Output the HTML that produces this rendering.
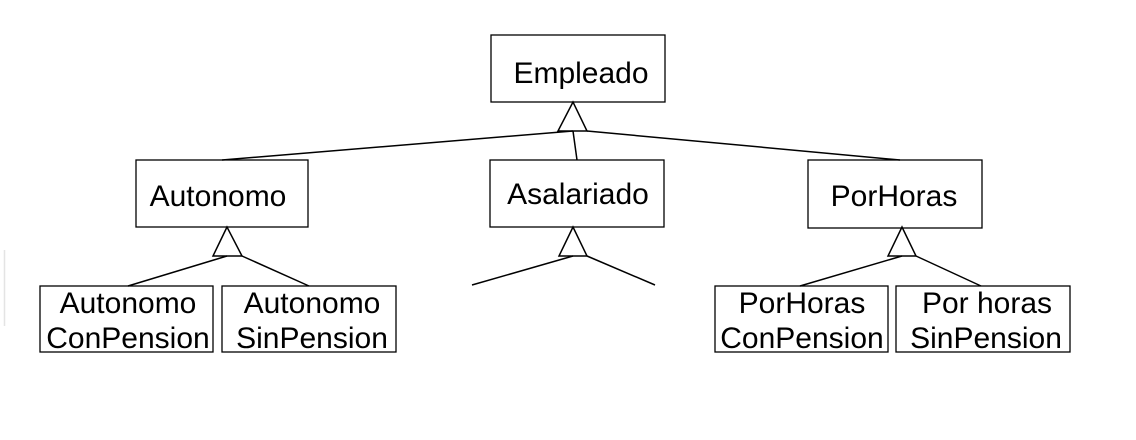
<!DOCTYPE html>
<html><head><meta charset="utf-8"><style>
html,body{margin:0;padding:0;background:#fff;}
svg{display:block;}
text{font-family:"Liberation Sans",Arial,sans-serif;font-size:30px;fill:#000;}
</style></head><body>
<svg width="1136" height="440" viewBox="0 0 1136 440" xmlns="http://www.w3.org/2000/svg">
<rect width="1136" height="440" fill="#fff"/>
<line x1="4.5" y1="250" x2="4.5" y2="326" stroke="#e4e4e4" stroke-width="1.5"/>
<g fill="#fff" stroke="#000" stroke-width="1.3">
<rect x="491" y="35" width="174" height="67"/>
<rect x="136" y="160" width="172" height="67"/>
<rect x="490" y="160" width="174" height="67"/>
<rect x="808" y="160" width="174" height="68"/>
<rect x="40" y="286" width="173" height="66"/>
<rect x="222" y="286" width="174" height="66"/>
<rect x="715" y="286" width="173" height="66"/>
<rect x="896" y="286" width="174" height="66"/>
</g>
<g fill="none" stroke="#000" stroke-width="1.5">
<polygon points="573,102 558,131 587,131" fill="#fff"/>
<line x1="573" y1="131" x2="222" y2="160"/>
<line x1="573" y1="131" x2="577" y2="160"/>
<line x1="587" y1="131" x2="900" y2="160"/>
<polygon points="227,227 213,256 242,256" fill="#fff"/>
<line x1="227" y1="256" x2="128" y2="286"/>
<line x1="242" y1="256" x2="309" y2="286"/>
<polygon points="573,227 559,256 587,256" fill="#fff"/>
<line x1="573" y1="256" x2="472" y2="285"/>
<line x1="587" y1="256" x2="655" y2="285"/>
<polygon points="902,227 888,256 916,256" fill="#fff"/>
<line x1="902" y1="256" x2="800" y2="286"/>
<line x1="916" y1="256" x2="981" y2="286"/>
</g>
<text x="581" y="83" text-anchor="middle">Empleado</text>
<text x="218" y="206" text-anchor="middle">Autonomo</text>
<text x="578" y="204" text-anchor="middle">Asalariado</text>
<text x="894" y="206" text-anchor="middle">PorHoras</text>
<text x="128" y="313" text-anchor="middle">Autonomo</text>
<text x="128" y="348" text-anchor="middle">ConPension</text>
<text x="312" y="313" text-anchor="middle">Autonomo</text>
<text x="312" y="348" text-anchor="middle">SinPension</text>
<text x="802" y="313" text-anchor="middle">PorHoras</text>
<text x="802" y="348" text-anchor="middle">ConPension</text>
<text x="987" y="313" text-anchor="middle">Por horas</text>
<text x="986" y="348" text-anchor="middle">SinPension</text>
</svg>
</body></html>
